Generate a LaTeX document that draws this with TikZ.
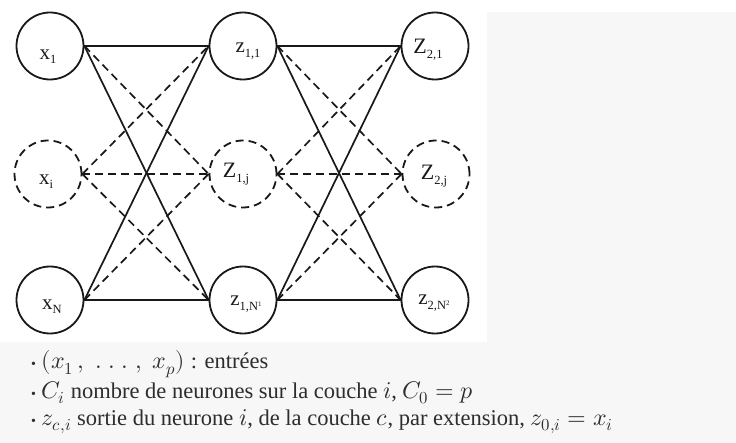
\documentclass[tikz,border=0pt]{standalone}
\usepackage{fontspec}
\usepackage{unicode-math}
\setmainfont{Liberation Serif}
\setmathfont{Latin Modern Math}
\definecolor{pagebg}{RGB}{247,247,247}
\definecolor{inkc}{RGB}{25,25,25}
\definecolor{txtc}{RGB}{45,45,45}
\newcommand\lsub[2]{#1\raisebox{-0.45ex}{\fontsize{12.5}{12.5}\selectfont #2}}
\newcommand\mth[1]{{\fontsize{24}{24}\selectfont$#1$}}
\begin{document}
\begin{tikzpicture}[x=1pt,y=-1pt,
  neuron/.style={circle,draw=inkc,line width=1.8pt,minimum size=67pt,inner sep=0pt},
  hidden/.style={neuron,dash pattern=on 8pt off 5pt},
  lbl/.style={inner sep=0pt,text=inkc,font=\fontsize{21}{21}\selectfont},
  link/.style={draw=inkc,line width=1.7pt},
  dlink/.style={link,dash pattern=on 8pt off 5pt},
  bullet/.style={anchor=base west,inner sep=0pt,text=txtc,font=\fontsize{22.5}{22.5}\selectfont}]
\useasboundingbox (0,0) rectangle (736,443);
\fill[pagebg] (0,0) rectangle (736,443);
\fill[white] (0,0) rectangle (736,12);
\fill[white] (0,0) rectangle (487,342);
% layer 0
\node[neuron] (x1) at (50,46) {};
\node[hidden] (xi) at (48,174) {};
\node[neuron] (xN) at (50,300) {};
% layer 1
\node[neuron] (z11) at (243,46) {};
\node[hidden] (z1j) at (243,174) {};
\node[neuron] (z1N) at (243,300) {};
% layer 2
\node[neuron] (z21) at (435,46) {};
\node[hidden] (z2j) at (436,174) {};
\node[neuron] (z2N) at (435,300) {};
% labels
\node[lbl] (lx1) at (48,57) {\lsub{x}{1}};
\node[lbl] (lxi) at (46,182) {\lsub{x}{i}};
\node[lbl] (lxN) at (52,307) {\lsub{x}{N}};
\node[lbl] (lz11) at (248,51) {\lsub{z}{1,1}};
\node[lbl,font=\fontsize{22}{22}\selectfont] (lz1j) at (236,174) {\lsub{Z}{1,j}};
\node[lbl] (lz1N) at (246,304) {\lsub{z}{1,N\raisebox{0.6ex}{\fontsize{7}{7}\selectfont 1}}};
\node[lbl,font=\fontsize{22}{22}\selectfont] (lz21) at (428,50) {\lsub{Z}{2,1}};
\node[lbl,font=\fontsize{22}{22}\selectfont] (lz2j) at (434,176) {\lsub{Z}{2,j}};
\node[lbl] (lz2N) at (434,303) {\lsub{z}{2,N\raisebox{0.6ex}{\fontsize{7}{7}\selectfont 2}}};
% connections layer 0 -> 1
\draw[link] (x1.east) -- (z11.west);
\draw[link] (x1.east) -- (z1N.west);
\draw[link] (xN.east) -- (z11.west);
\draw[link] (xN.east) -- (z1N.west);
\draw[dlink] (x1.east) -- (z1j.west);
\draw[dlink] (xi.east) -- (z11.west);
\draw[dlink] (xi.east) -- (z1j.west);
\draw[dlink] (xi.east) -- (z1N.west);
\draw[dlink] (xN.east) -- (z1j.west);
% connections layer 1 -> 2
\draw[link] (z11.east) -- (z21.west);
\draw[link] (z11.east) -- (z2N.west);
\draw[link] (z1N.east) -- (z21.west);
\draw[link] (z1N.east) -- (z2N.west);
\draw[dlink] (z11.east) -- (z2j.west);
\draw[dlink] (z1j.east) -- (z21.west);
\draw[dlink] (z1j.east) -- (z2j.west);
\draw[dlink] (z1j.east) -- (z2N.west);
\draw[dlink] (z1N.east) -- (z2j.west);
% bullet list
\node[bullet] (b1) at (31,369) {{\fontsize{14}{14}\selectfont\textbullet}\ \mth{(x_1\,,\;.\;.\;.\;,\;x_p)}\;: entrées};
\node[bullet] (b2) at (31,398) {{\fontsize{14}{14}\selectfont\textbullet}\ \mth{C_i} nombre de neurones sur la couche \mth{i}, \mth{C_0=p}};
\node[bullet] (b3) at (31,425) {{\fontsize{14}{14}\selectfont\textbullet}\ \mth{z_{c,i}} sortie du neurone \mth{i}, de la couche \mth{c}, par extension, \mth{z_{0,i}=x_i}};
\end{tikzpicture}
\end{document}
